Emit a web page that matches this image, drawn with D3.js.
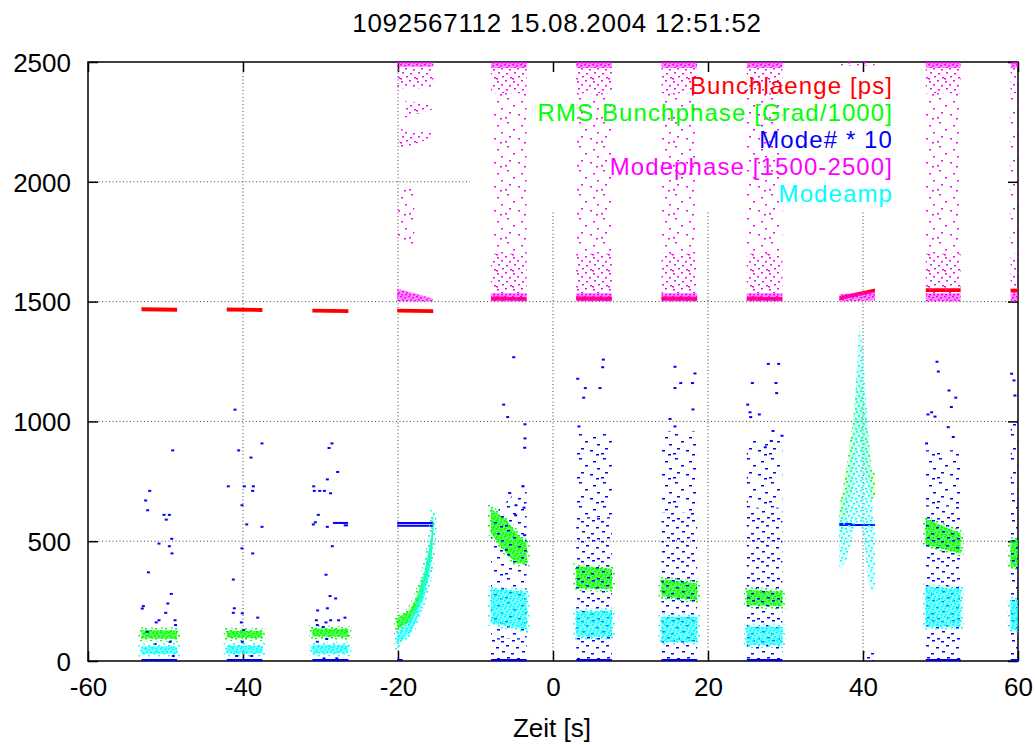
<!DOCTYPE html>
<html>
<head>
<meta charset="utf-8">
<script src="https://cdn.jsdelivr.net/npm/d3@7"></script>
<style>
body { margin: 0; background: #fff; }
text { font-family: "Liberation Sans", Arial, sans-serif; }
</style>
</head>
<body>
<script>

// burst time windows [s]
const burstStart = [-53.1, -42.1, -31.05, -20.1, -8.0, 3.0, 14.0, 25.0, 36.95, 48.1, 59.05];
const burstEnd   = [-48.5, -37.5, -26.4, -15.45, -3.4, 7.6, 18.6, 29.6, 41.55, 52.6, 60];

// Bunchlaenge [ps], value at start and end of each burst
const bunchStart = [1468, 1467, 1462, 1462, 1513, 1513, 1513, 1513, 1514, 1548, 1546];
const bunchEnd   = [1466, 1465, 1460, 1460, 1512, 1512, 1512, 1512, 1547, 1548, 1546];

// RMS Bunchphase clouds: [t, low, high]
const rmsBands = [
    [[-53.1, 95, 128], [-48.5, 93, 127]],
    [[-42.1, 97, 126], [-37.5, 96, 125]],
    [[-31.05, 102, 136], [-26.4, 100, 134]],
    [[-20.1, 130, 178], [-18.45, 164, 212], [-17.6, 212, 268], [-16.73, 282, 351], [-16.09, 365, 449], [-15.65, 449, 532], [-15.45, 532, 617]],
    [[-8.0, 532, 636], [-6.0, 449, 588], [-4.7, 407, 532], [-3.4, 407, 490]],
    [[3.0, 305, 395], [7.6, 300, 385]],
    [[14.0, 270, 340], [18.6, 255, 325]],
    [[25.0, 233, 296], [29.6, 228, 290]],
    [[36.95, 490, 640], [37.9, 600, 810], [38.75, 726, 1018], [39.4, 950, 1254], [40.0, 810, 1130], [40.7, 726, 950], [41.1, 670, 800], [41.55, 690, 780]],
    [[48.1, 485, 594], [52.6, 449, 532]],
    [[59.05, 393, 504], [60, 393, 504]]
];

// Modeamp clouds: [t, low, high]
const ampBands = [
    [[-53.1, 29, 60], [-48.5, 30, 62]],
    [[-42.1, 30, 65], [-37.5, 30, 65]],
    [[-31.05, 30, 67], [-26.4, 32, 68]],
    [[-20.1, 67, 115], [-18.45, 115, 171], [-17.6, 171, 226], [-16.73, 254, 338], [-16.09, 338, 435], [-15.65, 435, 533], [-15.45, 533, 629]],
    [[-8.0, 158, 300], [-3.4, 130, 290]],
    [[3.0, 101, 205], [7.6, 100, 210]],
    [[14.0, 80, 185], [18.6, 80, 185]],
    [[25.0, 67, 143], [29.6, 67, 143]],
    [[36.95, 380, 600], [37.9, 420, 726], [38.75, 533, 950], [39.5, 600, 1408], [40.0, 533, 1296], [40.7, 325, 950], [41.3, 283, 600], [41.55, 300, 560]],
    [[48.1, 143, 310], [52.6, 143, 300]],
    [[59.05, 129, 254], [60, 129, 254]]
];

// Modephase [1500-2500] clouds, three densities
const phaseDense = [
    [[-20.1, 1500, 1555], [-15.45, 1500, 1512]],
    [[-20.1, 2480, 2500], [-15.45, 2480, 2500]],
    [[-8.0, 1500, 1535], [-3.4, 1500, 1535]], [[-8.0, 2475, 2500], [-3.4, 2475, 2500]],
    [[3.0, 1500, 1535], [7.6, 1500, 1535]], [[3.0, 2475, 2500], [7.6, 2475, 2500]],
    [[14.0, 1500, 1535], [18.6, 1500, 1535]], [[14.0, 2475, 2500], [18.6, 2475, 2500]],
    [[25.0, 1500, 1535], [29.6, 1500, 1535]], [[25.0, 2475, 2500], [29.6, 2475, 2500]],
    [[36.95, 1500, 1530], [41.55, 1505, 1545]],
    [[48.1, 1500, 1535], [52.6, 1500, 1535]], [[48.1, 2475, 2500], [52.6, 2475, 2500]],
    [[59.05, 1500, 1535], [60, 1500, 1535]], [[59.05, 2475, 2500], [60, 2475, 2500]]
];
const phaseMedium = [
    [[-20.1, 2390, 2480], [-15.45, 2390, 2480]],
    [[-19.1, 2268, 2338], [-15.45, 2303, 2324]],
    [[-19.8, 2136, 2220], [-15.45, 2185, 2206]],
    [[-8.0, 2370, 2475], [-3.4, 2370, 2475]], [[-8.0, 1535, 1700], [-3.4, 1535, 1700]],
    [[3.0, 2370, 2475], [7.6, 2370, 2475]], [[3.0, 1535, 1700], [7.6, 1535, 1700]],
    [[14.0, 2370, 2475], [18.6, 2370, 2475]], [[14.0, 1535, 1700], [18.6, 1535, 1700]],
    [[25.0, 2370, 2475], [29.6, 2370, 2475]], [[25.0, 1535, 1700], [29.6, 1535, 1700]],
    [[37.0, 2485, 2500], [41.5, 2485, 2500]],
    [[48.1, 2370, 2475], [52.6, 2370, 2475]], [[48.1, 1535, 1700], [52.6, 1535, 1700]],
    [[59.05, 2370, 2475], [60, 2370, 2475]], [[59.05, 1535, 1700], [60, 1535, 1700]]
];
const phaseSparse = [
    [[-20.1, 1740, 1970], [-17.9, 1740, 1970]],
    [[-8.0, 1700, 2370], [-3.4, 1700, 2370]],
    [[3.0, 1700, 2370], [7.6, 1700, 2370]],
    [[14.0, 1700, 2370], [18.6, 1700, 2370]],
    [[25.0, 1700, 2370], [29.6, 1700, 2370]],
    [[48.1, 1700, 2370], [52.6, 1700, 2370]],
    [[59.05, 1700, 2370], [60, 1700, 2370]]
];

// Mode# * 10
const modeLines = [ // [t0, t1, value]
    [-53.1, -48.5, 0], [-42.1, -37.5, 0], [-31.05, -26.4, 0], [-20.1, -19.4, 0],
    [-28.4, -26.45, 572], [-27.0, -26.45, 562],
    [-20.1, -15.45, 560], [-20.1, -15.45, 572],
    [-8.0, -3.4, 0], [3.0, 7.6, 0], [14.0, 18.6, 0], [25.0, 29.6, 0],
    [36.95, 41.55, 563], [36.95, 38.6, 568],
    [48.1, 52.6, 0], [59.05, 60, 0]
];
const modeMedium = [
    [[-8.0, 0, 95], [-3.4, 0, 95]],
    [[3.0, 0, 600], [7.6, 0, 600]],
    [[14.0, 0, 620], [18.6, 0, 620]],
    [[25.0, 0, 640], [29.6, 0, 640]],
    [[40.2, 0, 55], [41.5, 0, 55]],
    [[48.1, 0, 650], [52.6, 0, 650]],
    [[59.05, 0, 700], [60, 0, 700]]
];
const modeSparse = [
    [[-8.0, 95, 600], [-3.4, 95, 750]],
    [[3.0, 600, 950], [7.6, 600, 950]],
    [[14.0, 620, 960], [18.6, 620, 960]],
    [[25.0, 640, 920], [29.6, 640, 920]],
    [[48.1, 650, 880], [52.6, 650, 880]],
    [[59.05, 700, 1000], [60, 700, 1000]]
];
const modeT = [
    -49.07, -52.04, -52.56, -52.3, -50.19, -49.5, -49.9, -49.2, -50.84, -49.5, -49.16, -52.2, -49.25, -52.86, -53.0, -49.7, -49.97, -50.84, -51.2, -48.77, -48.7, -52.35, -49.4, -51.35, -48.99,
    -41.03, -40.56, -37.55, -38.97, -41.9, -39.83, -38.66, -38.75, -40.13, -39.52, -37.55, -40.13, -38.75, -41.25, -41.12, -41.25, -40.09, -38.1, -40.22, -39.91, -40.09, -40.82, -38.88,
    -28.52, -28.9, -27.78, -29.12, -30.88, -30.8, -30.1, -29.5, -28.7, -30.28, -30.67, -30.93, -29.12, -28.48, -29.29, -28.77, -28.04, -30.37, -29.12, -30.54, -29.29, -28.69, -27.66, -26.84, -30.41, -29.64, -29.2, -30.41, -29.55, -27.9,
    -5.07, -6.36, -5.85, -3.61, -3.61, -3.65, -3.87, -5.59, -4.77, -3.74, -4.81, -3.65,
    6.49, 6.41, 3.19, 4.17, 6.06, 3.96, 3.35,
    15.74, 18.32, 15.74, 16.48, 18.0, 18.06, 15.1, 15.74,
    27.78, 29.12, 25.72, 28.77, 28.86, 25.12, 25.42, 25.51, 26.62, 28.39, 29.55, 28.17, 27.39,
    49.55, 49.72, 51.1, 51.97, 51.4, 48.86, 48.39, 49.29, 48.2, 51.0, 51.65,
    59.18, 59.48, 59.6
];
const modeV = [
    879, 710, 670, 629, 610, 610, 590, 510, 490, 479, 449, 370, 280, 229, 219, 240, 201, 170, 161, 170, 150, 122, 80, 71, 21,
    1049, 879, 908, 849, 729, 729, 729, 710, 650, 570, 560, 470, 449, 340, 220, 201, 199, 181, 161, 129, 80, 21, 21,
    908, 889, 789, 758, 729, 710, 710, 710, 700, 610, 579, 570, 560, 479, 360, 271, 261, 211, 220, 170, 161, 170, 170, 181, 150, 142, 92, 80, 11, 11,
    1268, 1070, 1018, 988, 929, 890, 729, 701, 650, 640, 608, 525,
    1258, 1226, 1178, 1139, 1139, 1099, 979,
    1228, 1200, 1139, 1160, 1160, 1050, 1010, 979,
    1240, 1240, 1160, 1160, 1118, 1070, 1038, 1018, 1029, 960, 940, 918, 892,
    1249, 1208, 1129, 1099, 1060, 1038, 1029, 1020, 908, 976, 935,
    1199, 1171, 1108
];

const xTicks = [-60, -40, -20, 0, 20, 40, 60];
const yTicks = [0, 500, 1000, 1500, 2000, 2500];
const legendLabels = ["Bunchlaenge [ps]", "RMS Bunchphase [Grad/1000]", "Mode# * 10", "Modephase [1500-2500]", "Modeamp"];
const colors = ["#ff0000", "#00ff00", "#0000ff", "#ff00ff", "#00ffff"];

let width = 1036;
let height = 745;

let svg = d3.select("body")
    .append("svg")
    .attr("width", width)
    .attr("height", height)

let xScale = d3.scaleLinear().domain([-60, 60]).range([88, 1018])
let yScale = d3.scaleLinear().domain([0, 2500]).range([661, 62])

let defs = svg.append("defs")
defs.append("clipPath").attr("id", "plot")
    .append("rect")
    .attr("x", 88).attr("y", 62).attr("width", 930).attr("height", 599)

// dot textures for the point clouds
const denseDots = [[0, 0], [4, 1], [2, 3], [6, 4], [1, 6], [5, 6]];
const mediumDots = [[1, 1], [9, 0], [5, 4], [13, 5], [2, 8], [10, 9], [6, 12], [14, 13], [0, 14]];
const plumeDots = [[0, 0], [6, 1], [3, 3], [8, 5], [1, 7], [5, 8]];
const blueDots = [[1, 1], [12, 0], [6, 5], [16, 7], [2, 11], [11, 13], [7, 17], [17, 18]];
const sparseDots = [[3, 2], [17, 5], [9, 9], [21, 12], [5, 16], [14, 18], [20, 22], [1, 21]];

function makePattern(id, color, size, base, dots, dotW) {
    let p = defs.append("pattern")
        .attr("id", id)
        .attr("patternUnits", "userSpaceOnUse")
        .attr("width", size)
        .attr("height", size)
    if (base > 0) {
        p.append("rect").attr("width", size).attr("height", size)
            .attr("fill", color).attr("opacity", base)
    }
    p.selectAll("rect.dot")
        .data(dots)
        .enter()
        .append("rect")
        .attr("class", "dot")
        .attr("x", d => d[0])
        .attr("y", d => d[1])
        .attr("width", dotW)
        .attr("height", 1.5)
        .attr("fill", color)
}
makePattern("greenDense", colors[1], 8, 0.65, denseDots, 2)
makePattern("greenMedium", colors[1], 10, 0.12, plumeDots, 2)
makePattern("greenEdge", colors[1], 10, 0, plumeDots, 2)
makePattern("cyanDense", colors[4], 8, 0.5, denseDots, 2)
makePattern("cyanMedium", colors[4], 10, 0.12, plumeDots, 2)
makePattern("cyanEdge", colors[4], 10, 0, plumeDots, 2)
makePattern("blueMedium", colors[2], 20, 0, blueDots, 3)
makePattern("blueSparse", colors[2], 24, 0, sparseDots, 3)
makePattern("magDense", colors[3], 8, 0.45, denseDots, 2)
makePattern("magMedium", colors[3], 16, 0, mediumDots, 2)
makePattern("magSparse", colors[3], 24, 0, sparseDots, 2)

// grid
let grid = svg.append("g")
    .attr("stroke", "#444")
    .attr("stroke-width", 1)
    .attr("stroke-dasharray", "1,2.5")
grid.selectAll("line.v")
    .data(xTicks.slice(1, -1))
    .enter()
    .append("line")
    .attr("x1", d => xScale(d)).attr("x2", d => xScale(d))
    .attr("y1", yScale(2500)).attr("y2", yScale(0))
grid.selectAll("line.h")
    .data(yTicks.slice(1, -1))
    .enter()
    .append("line")
    .attr("x1", xScale(-60)).attr("x2", xScale(60))
    .attr("y1", d => yScale(d)).attr("y2", d => yScale(d))

// key area hides the grid
svg.append("rect")
    .attr("x", 470).attr("y", 63)
    .attr("width", 547).attr("height", 147)
    .attr("fill", "#fff")

// axes with inward ticks
let fmt = d3.format("d")
let xAxis = d3.axisBottom(xScale).tickValues(xTicks).tickFormat(fmt).tickSize(-10).tickSizeOuter(0).tickPadding(17)
let gx = svg.append("g")
    .attr("transform", "translate(0," + yScale(0) + ")")
    .call(xAxis)
gx.selectAll("text").attr("font-size", 26).attr("fill", "#000").text(d => String(d))

let yAxis = d3.axisLeft(yScale).tickValues(yTicks).tickFormat(fmt).tickSize(-10).tickSizeOuter(0).tickPadding(17)
let gy = svg.append("g")
    .attr("transform", "translate(" + xScale(-60) + ",0)")
    .call(yAxis)
gy.selectAll("text").attr("font-size", 26).attr("fill", "#000").attr("dy", "0.36em")

svg.append("g")
    .attr("transform", "translate(0," + yScale(2500) + ")")
    .call(d3.axisTop(xScale).tickValues(xTicks).tickSize(-10).tickSizeOuter(0).tickFormat(""))
svg.append("g")
    .attr("transform", "translate(" + xScale(60) + ",0)")
    .call(d3.axisRight(yScale).tickValues(yTicks).tickSize(-10).tickSizeOuter(0).tickFormat(""))
svg.selectAll(".domain").remove()
svg.selectAll(".tick line").attr("stroke", "#000").attr("stroke-width", 1.5)

svg.append("rect")
    .attr("x", xScale(-60)).attr("y", yScale(2500))
    .attr("width", xScale(60) - xScale(-60))
    .attr("height", yScale(0) - yScale(2500))
    .attr("fill", "none")
    .attr("stroke", "#000")
    .attr("stroke-width", 1.5)

// data
let plot = svg.append("g").attr("clip-path", "url(#plot)")

let area = d3.area()
    .x(d => xScale(d[0]))
    .y0(d => yScale(d[1]))
    .y1(d => yScale(d[2]))

function drawBands(profiles, fill, edge) {
    plot.append("g")
        .selectAll("path")
        .data(profiles)
        .enter()
        .append("path")
        .attr("d", area)
        .attr("fill", fill)
        .attr("stroke", edge || "none")
        .attr("stroke-width", edge ? 6 : 0)
}

// Bunchlaenge
let bunchBands = burstStart.map((t, i) => [
    [t, bunchStart[i] - 8, bunchStart[i] + 8],
    [burstEnd[i], bunchEnd[i] - 8, bunchEnd[i] + 8]
])
drawBands(bunchBands, colors[0])

// RMS Bunchphase
drawBands(rmsBands.filter((b, i) => i != 8), "url(#greenDense)", "url(#greenEdge)")
drawBands([rmsBands[8]], "url(#greenMedium)")

// Mode# * 10
drawBands(modeSparse, "url(#blueSparse)")
drawBands(modeMedium, "url(#blueMedium)")
plot.append("g")
    .selectAll("line")
    .data(modeLines)
    .enter()
    .append("line")
    .attr("x1", d => xScale(d[0]))
    .attr("x2", d => xScale(d[1]))
    .attr("y1", d => yScale(d[2]) - 1)
    .attr("y2", d => yScale(d[2]) - 1)
    .attr("stroke", colors[2])
    .attr("stroke-width", 2)
plot.append("g")
    .selectAll("rect")
    .data(modeT)
    .enter()
    .append("rect")
    .attr("x", d => xScale(d) - 1.5)
    .attr("y", (d, i) => yScale(modeV[i]) - 1)
    .attr("width", 3)
    .attr("height", 2)
    .attr("fill", colors[2])

// Modephase
drawBands(phaseSparse, "url(#magSparse)")
drawBands(phaseMedium, "url(#magMedium)")
drawBands(phaseDense, "url(#magDense)")

// Modeamp
drawBands(ampBands.filter((b, i) => i != 8), "url(#cyanDense)", "url(#cyanEdge)")
drawBands([ampBands[8]], "url(#cyanMedium)")

// key
svg.append("g")
    .selectAll("text")
    .data(legendLabels)
    .enter()
    .append("text")
    .attr("x", 893)
    .attr("y", (d, i) => 93.5 + i * 27)
    .attr("text-anchor", "end")
    .attr("font-size", 24)
    .attr("letter-spacing", 1.1)
    .attr("fill", (d, i) => colors[i])
    .text(d => d)

// title and x label
svg.append("text")
    .attr("x", 557)
    .attr("y", 31.5)
    .attr("text-anchor", "middle")
    .attr("font-size", 26)
    .attr("letter-spacing", 0.7)
    .text("1092567112 15.08.2004 12:51:52")

svg.append("text")
    .attr("x", 552)
    .attr("y", 736.5)
    .attr("text-anchor", "middle")
    .attr("font-size", 26)
    .text("Zeit [s]")

</script>
</body>
</html>
